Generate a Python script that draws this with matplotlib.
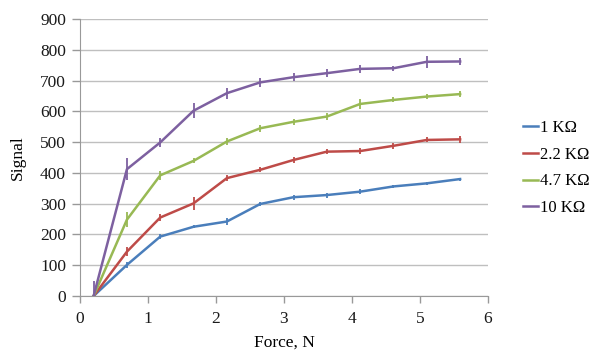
import numpy as np
import matplotlib.pyplot as plt

plt.rcParams['font.family'] = ['Liberation Serif', 'DejaVu Serif']

# force values (N)
force = [0.2, 0.69, 1.18, 1.67, 2.16, 2.65, 3.14, 3.63, 4.12, 4.61, 5.1, 5.59]

# signal for each resistor
sig_1k = [0, 101, 193, 225, 242, 299, 321, 328, 339, 356, 366, 380]
sig_2k2 = [0, 144, 255, 301, 383, 410, 442, 469, 471, 488, 507, 509]
sig_4k7 = [0, 248, 392, 439, 502, 545, 566, 583, 624, 637, 648, 656]
sig_10k = [0, 412, 499, 602, 659, 694, 711, 724, 738, 740, 761, 762]

err_1k = [5, 10, 8, 5, 10, 8, 8, 8, 8, 5, 5, 5]
err_2k2 = [5, 15, 10, 20, 10, 8, 10, 8, 10, 10, 8, 12]
err_4k7 = [5, 25, 15, 8, 10, 12, 10, 12, 15, 8, 8, 10]
err_10k = [50, 35, 15, 25, 18, 15, 12, 12, 12, 8, 20, 10]

labels = ['1 K\u03a9', '2.2 K\u03a9', '4.7 K\u03a9', '10 K\u03a9']
colors = ['#4a7ebb', '#be4b48', '#98b954', '#7d60a0']

fig = plt.figure(figsize=(5.89, 3.54), dpi=100)
ax = fig.add_axes([80 / 589, 1 - 296 / 354, 408 / 589, 277 / 354])

series = [(sig_1k, err_1k), (sig_2k2, err_2k2), (sig_4k7, err_4k7), (sig_10k, err_10k)]
for (s, e), lab, c in zip(series, labels, colors):
    ax.errorbar(force, s, yerr=e, color=c, lw=1.8, elinewidth=1.3, capsize=0,
                label=lab, zorder=3)

ax.set_xlim(0, 6)
ax.set_ylim(0, 900)
ax.set_xticks(range(0, 7))
ax.set_yticks(range(0, 901, 100))
ax.grid(axis='y', color='#bfbfbf', lw=1)
ax.set_axisbelow(True)
for sp in ['top', 'right']:
    ax.spines[sp].set_visible(False)
for sp in ['left', 'bottom']:
    ax.spines[sp].set_color('#999999')
ax.tick_params(axis='both', colors='#999999', labelcolor='#1a1a1a', labelsize=12.5,
               width=1)
ax.tick_params(axis='y', length=6, pad=4)
ax.tick_params(axis='x', length=5, pad=6)
ax.set_xlabel('Force, N', fontsize=12.5, labelpad=5)
ax.set_ylabel('Signal', fontsize=12.5, labelpad=10)

# legend with handles only (no error bar markers)
handles = [plt.Line2D([], [], color=c, lw=1.8) for c in colors]
fig.legend(handles, labels, loc='center left', bbox_to_anchor=(508 / 589, 1 - 168 / 354),
           frameon=False, fontsize=12, handlelength=0.9, handletextpad=0.1,
           labelspacing=0.65)

plt.savefig('out.png', dpi=100)
